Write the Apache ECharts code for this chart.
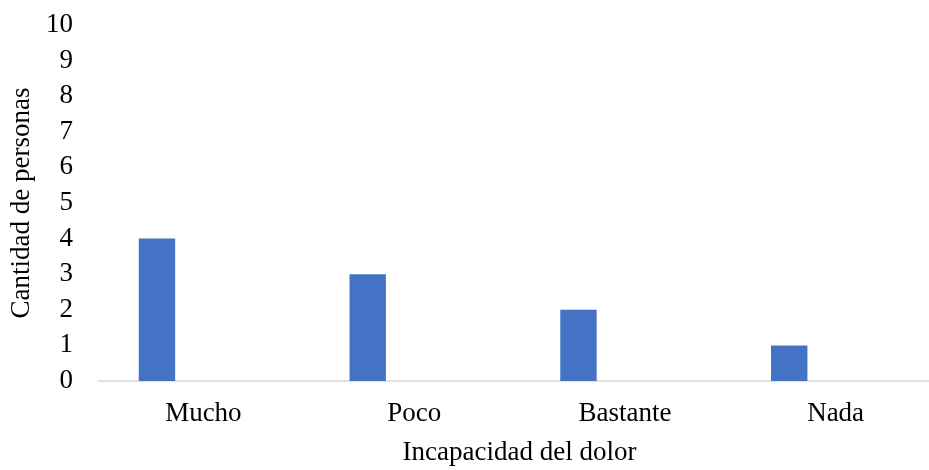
<!DOCTYPE html>
<html><head><meta charset="utf-8">
<script src="https://cdn.jsdelivr.net/npm/echarts@6/dist/echarts.min.js"></script>
<style>html,body{margin:0;padding:0;background:#fff}#c{width:929px;height:470px}</style>
</head><body><div id="c"></div>
<script>
const categories = ['Mucho', 'Poco', 'Bastante', 'Nada'];
const values = [4, 3, 2, 1];
const yTicks = { min: 0, max: 10, interval: 1 };
const xTitle = 'Incapacidad del dolor';
const yTitle = 'Cantidad de personas';

const font = '"Liberation Serif", "Times New Roman", serif';
const chart = echarts.init(document.getElementById('c'), null, { renderer: 'canvas' });
chart.setOption({
  animation: false,
  grid: { left: 98, width: 843, top: 25, bottom: 89, containLabel: false, outerBoundsMode: 'none' },
  xAxis: {
    type: 'category', data: categories,
    name: xTitle, nameLocation: 'middle', nameGap: 58,
    nameTextStyle: { fontFamily: font, fontSize: 27, color: '#000' },
    axisLine: { lineStyle: { color: '#d9d9d9', width: 1.5 } },
    axisTick: { show: false },
    axisLabel: { fontFamily: font, fontSize: 27, color: '#000', margin: 19 }
  },
  yAxis: {
    type: 'value', min: yTicks.min, max: yTicks.max, interval: yTicks.interval,
    name: yTitle, nameLocation: 'middle', nameGap: 62,
    nameTextStyle: { fontFamily: font, fontSize: 27, color: '#000' },
    axisLine: { show: false }, axisTick: { show: false },
    splitLine: { show: false },
    axisLabel: { fontFamily: font, fontSize: 27, color: '#000', margin: 25 }
  },
  series: [
    { type: 'bar', data: values, barWidth: 36.4, barGap: '155%', itemStyle: { color: '#4472C4' } },
    { type: 'bar', data: categories.map(() => null), barWidth: 36.4 }
  ]
});
</script></body></html>
